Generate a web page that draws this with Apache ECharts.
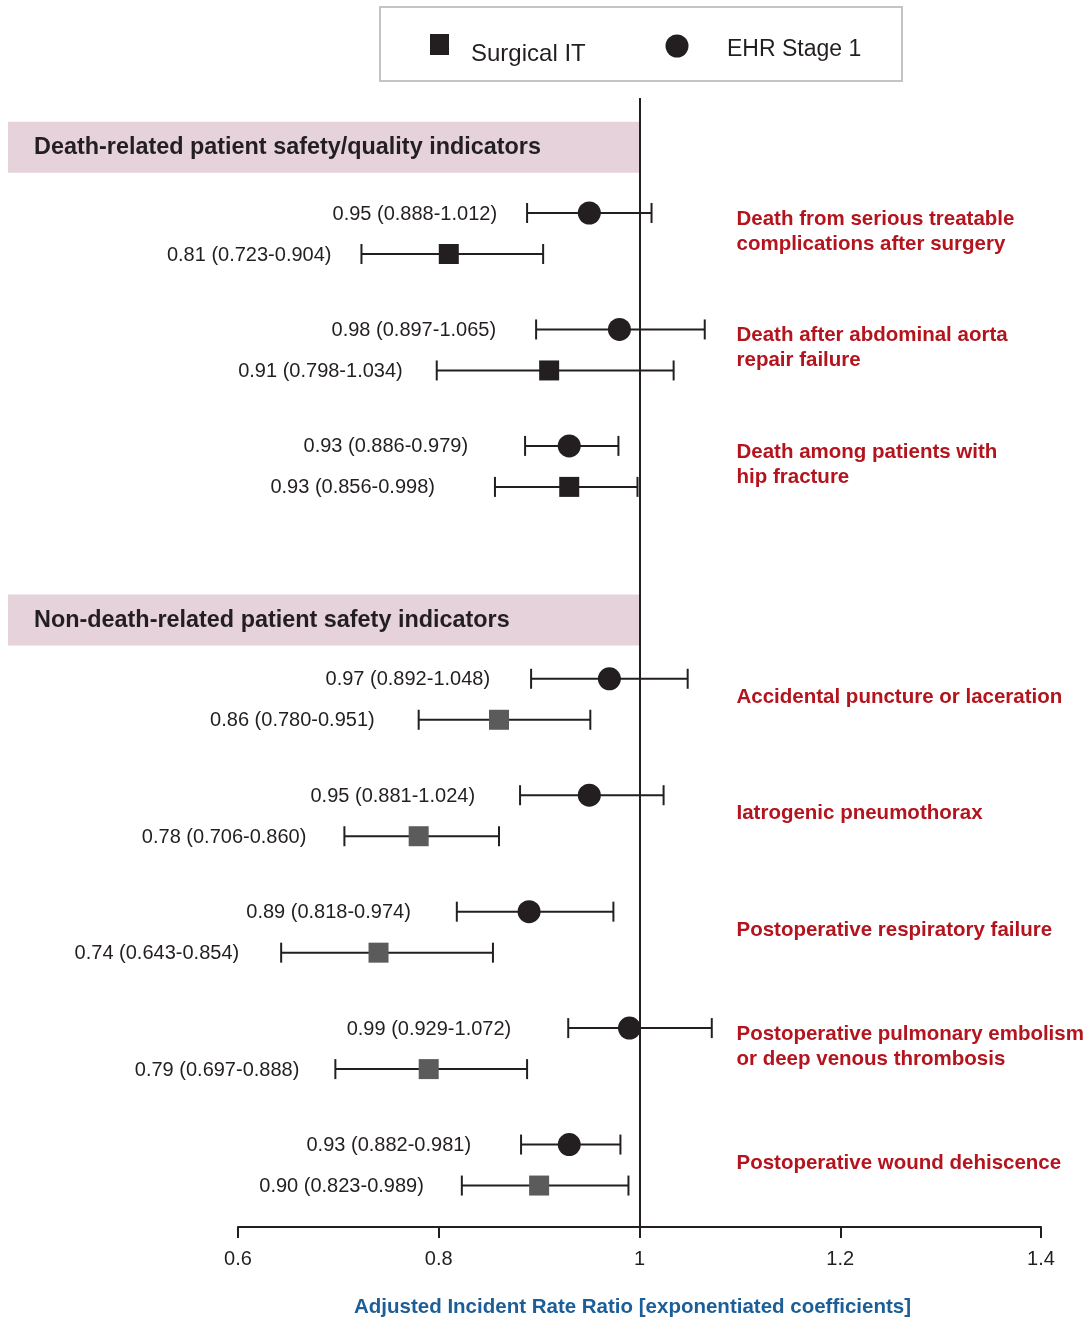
<!DOCTYPE html>
<html>
<head>
<meta charset="utf-8">
<script src="https://cdn.jsdelivr.net/npm/echarts@6/dist/echarts.min.js"></script>
<style>
  html, body { margin: 0; padding: 0; background: #fff; }
  #chart { width: 1091px; height: 1317px; }
</style>
</head>
<body>
<div id="chart"></div>
<script>
// indicators (row order, top to bottom)
var indicators = [
    'Death from serious treatable\ncomplications after surgery',
    'Death after abdominal aorta\nrepair failure',
    'Death among patients with\nhip fracture',
    'Accidental puncture or laceration',
    'Iatrogenic pneumothorax',
    'Postoperative respiratory failure',
    'Postoperative pulmonary embolism\nor deep venous thrombosis',
    'Postoperative wound dehiscence'
];
// row slot of each indicator (slot 3 left empty for the second header)
var slots = [0, 1, 2, 4, 5, 6, 7, 8];
var groupOf = [0, 0, 0, 1, 1, 1, 1, 1];

var groups = ['Death-related patient safety/quality indicators', 'Non-death-related patient safety indicators'];
var groupSlots = [-0.74, 3.32];

// EHR Stage 1
var ehrEst = [0.95, 0.98, 0.93, 0.97, 0.95, 0.89, 0.99, 0.93];
var ehrLow = [0.888, 0.897, 0.886, 0.892, 0.881, 0.818, 0.929, 0.882];
var ehrHigh = [1.012, 1.065, 0.979, 1.048, 1.024, 0.974, 1.072, 0.981];

// Surgical IT
var sitEst = [0.81, 0.91, 0.93, 0.86, 0.78, 0.74, 0.79, 0.90];
var sitLow = [0.723, 0.798, 0.856, 0.780, 0.706, 0.643, 0.697, 0.823];
var sitHigh = [0.904, 1.034, 0.998, 0.951, 0.860, 0.854, 0.888, 0.989];

var xTicks = [0.6, 0.8, 1, 1.2, 1.4];

// styling: px gap between value label and lower whisker, per row
var gapEhr = [30, 40, 57, 41, 45, 46, 57, 50];
var gapSit = [30, 34, 60, 44, 38, 42, 36, 38];

var dark = '#231f20';
var red = '#b3141d';
var blue = '#1b5e98';

function fmt(v, d) { return v.toFixed(d); }

function ciSeries(name, est, low, high, gaps, dy, shape) {
    return {
        name: name,
        type: 'custom',
        data: est.map(function (v, i) { return [low[i], high[i], v, slots[i], i]; }),
        encode: { x: [0, 1, 2], y: 3 },
        clip: false,
        renderItem: function (params, api) {
            var i = api.value(4);
            var lo = api.coord([api.value(0), api.value(3)]);
            var hi = api.coord([api.value(1), api.value(3)]);
            var mid = api.coord([api.value(2), api.value(3)]);
            var y = mid[1] + dy;
            var ls = { stroke: dark, lineWidth: 2 };
            var marker;
            if (shape === 'circle') {
                marker = { type: 'circle', shape: { cx: mid[0], cy: y, r: 11.5 }, style: { fill: dark } };
            } else {
                marker = { type: 'rect', shape: { x: mid[0] - 10, y: y - 10, width: 20, height: 20 },
                    style: { fill: groupOf[i] === 1 ? '#5b5b5b' : dark } };
            }
            var txt = fmt(est[i], 2) + ' (' + fmt(low[i], 3) + '-' + fmt(high[i], 3) + ')';
            return {
                type: 'group',
                children: [
                    { type: 'line', shape: { x1: lo[0], y1: y, x2: hi[0], y2: y }, style: ls },
                    { type: 'line', shape: { x1: lo[0], y1: y - 10, x2: lo[0], y2: y + 10 }, style: ls },
                    { type: 'line', shape: { x1: hi[0], y1: y - 10, x2: hi[0], y2: y + 10 }, style: ls },
                    marker,
                    { type: 'text', style: { x: lo[0] - gaps[i], y: y + 1, text: txt, align: 'right', verticalAlign: 'middle',
                        font: '20px "Liberation Sans", Arial, sans-serif', fill: dark } }
                ]
            };
        }
    };
}

var chart = echarts.init(document.getElementById('chart'), null, { renderer: 'canvas' });

var option = {
    animation: false,
    backgroundColor: '#fff',
    grid: { left: 238, right: 50, top: 98, bottom: 90, outerBoundsMode: 'none', containLabel: false },
    xAxis: {
        type: 'value',
        min: 0.6,
        max: 1.4,
        interval: 0.2,
        name: 'Adjusted Incident Rate Ratio [exponentiated coefficients]',
        nameLocation: 'middle',
        nameGap: 70,
        nameTextStyle: { color: blue, fontSize: 20.5, fontWeight: 'bold', fontFamily: 'Liberation Sans', padding: [0, 14, 0, 0] },
        axisLine: { onZero: false, lineStyle: { color: dark, width: 2 } },
        axisTick: { show: true, length: 11, lineStyle: { color: dark, width: 2 } },
        axisLabel: {
            margin: 22,
            color: dark,
            fontSize: 20,
            fontFamily: 'Liberation Sans',
            formatter: function (v) {
                var hit = xTicks.filter(function (t) { return Math.abs(t - v) < 1e-6; });
                return hit.length ? String(hit[0]) : '';
            }
        },
        splitLine: { show: false }
    },
    yAxis: {
        type: 'value',
        inverse: true,
        min: -1.1637,
        max: 8.532,
        show: false
    },
    graphic: [
        { type: 'rect', shape: { x: 380, y: 7, width: 522, height: 74 }, style: { fill: '#fff', stroke: '#c4c4c4', lineWidth: 2 } },
        { type: 'rect', shape: { x: 430, y: 34, width: 19, height: 21 }, style: { fill: dark } },
        { type: 'text', style: { x: 471, y: 54, text: 'Surgical IT', verticalAlign: 'middle', font: '24px "Liberation Sans", Arial, sans-serif', fill: dark } },
        { type: 'circle', shape: { cx: 677, cy: 46, r: 11.5 }, style: { fill: dark } },
        { type: 'text', style: { x: 727, y: 50, text: 'EHR Stage 1', verticalAlign: 'middle', font: '23px "Liberation Sans", Arial, sans-serif', fill: dark } }
    ],
    series: [
        // group header bands
        {
            type: 'custom',
            data: groupSlots.map(function (s, i) { return [1, s, i]; }),
            encode: { x: 0, y: 1 },
            clip: false,
            z: 1,
            renderItem: function (params, api) {
                var p = api.coord([api.value(0), api.value(1)]);
                return {
                    type: 'group',
                    children: [
                        { type: 'rect', shape: { x: 8, y: p[1] - 25.5, width: p[0] - 8, height: 51 }, style: { fill: '#e6d2da' } },
                        { type: 'text', style: { x: 34, y: p[1], text: groups[api.value(2)], verticalAlign: 'middle',
                            font: 'bold 23.4px "Liberation Sans", Arial, sans-serif', fill: dark } }
                    ]
                };
            }
        },
        // indicator names on the right
        {
            type: 'custom',
            data: slots.map(function (s, i) { return [1, s, i]; }),
            encode: { x: 0, y: 1 },
            clip: false,
            renderItem: function (params, api) {
                var p = api.coord([api.value(0), api.value(1)]);
                return {
                    type: 'text',
                    style: { x: p[0] + 97, y: p[1] - 2, text: indicators[api.value(2)], verticalAlign: 'middle',
                        lineHeight: 25, font: 'bold 20.5px "Liberation Sans", Arial, sans-serif', fill: red }
                };
            }
        },
        Object.assign(ciSeries('EHR Stage 1', ehrEst, ehrLow, ehrHigh, gapEhr, -20.5, 'circle'), {
            z: 3,
            markLine: {
                silent: true,
                symbol: 'none',
                label: { show: false },
                lineStyle: { color: dark, width: 2, type: 'solid' },
                data: [{ xAxis: 1 }]
            }
        }),
        Object.assign(ciSeries('Surgical IT', sitEst, sitLow, sitHigh, gapSit, 20.5, 'rect'), { z: 3 })
    ]
};

chart.setOption(option);
</script>
</body>
</html>
